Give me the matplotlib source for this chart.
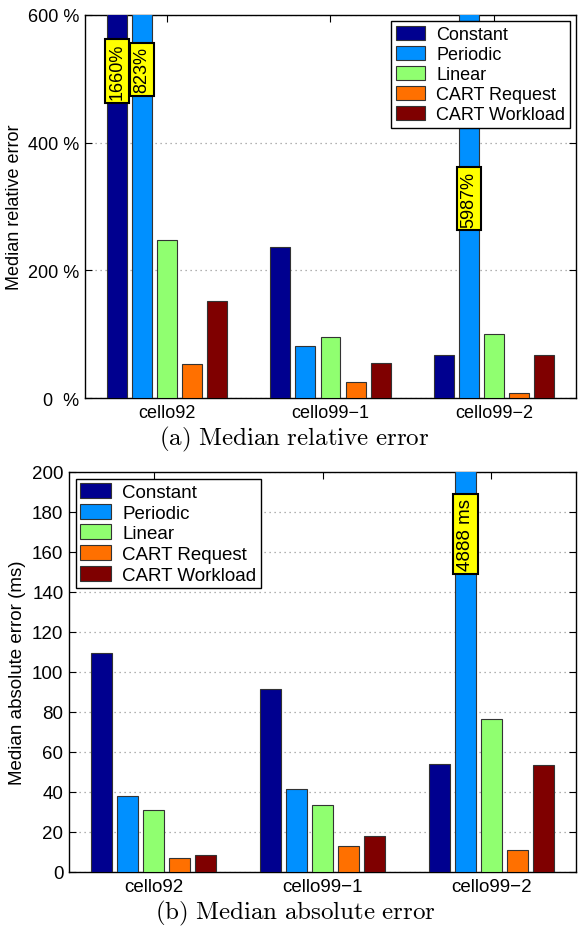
import matplotlib
matplotlib.use('Agg')
import matplotlib.pyplot as plt
import numpy as np

plt.rcParams['font.family'] = ['Liberation Sans', 'DejaVu Sans']
plt.rcParams['mathtext.fontset'] = 'cm'

datasets = ['cello92', 'cello99\u22121', 'cello99\u22122']
methods = ['Constant', 'Periodic', 'Linear', 'CART Request', 'CART Workload']
colors = ['#00008f', '#0090ff', '#90ff70', '#ff7000', '#7f0000']

# (a) median relative error, percent
rel_constant = [1660, 236, 68]
rel_periodic = [823, 82, 5987]
rel_linear = [248, 96, 100]
rel_cart_req = [53, 25, 8]
rel_cart_wl = [152, 55, 68]

# (b) median absolute error, ms
abs_constant = [109.5, 91.5, 54]
abs_periodic = [38, 41.5, 4888]
abs_linear = [31, 33.7, 76.5]
abs_cart_req = [6.8, 13.2, 11]
abs_cart_wl = [8.5, 18.2, 53.7]

rel_series = [rel_constant, rel_periodic, rel_linear, rel_cart_req, rel_cart_wl]
abs_series = [abs_constant, abs_periodic, abs_linear, abs_cart_req, abs_cart_wl]

step = 0.153
width = 0.122
x = np.arange(1, len(datasets) + 1)


def draw(ax, series, ymax, yticks, yticklabels, ylabel, legend_loc, notes, fs):
    for i, vals in enumerate(series):
        ax.bar(x + (i - 2) * step, vals, width, color=colors[i],
               edgecolor='#333333', linewidth=0.8, label=methods[i], zorder=3)
    ax.set_xlim(0.5, 3.5)
    ax.set_ylim(0, ymax)
    ax.set_xticks(x)
    ax.set_xticklabels(datasets, fontsize=fs)
    ax.set_yticks(yticks)
    ax.set_yticklabels(yticklabels, fontsize=fs)
    ax.set_ylabel(ylabel, fontsize=fs)
    ax.yaxis.grid(True, linestyle=(0, (1, 3)), color='#999999', linewidth=0.9, zorder=0)
    ax.tick_params(direction='in', top=True, right=True, length=5, pad=4)
    for s in ax.spines.values():
        s.set_linewidth(1.0)
    leg = ax.legend(loc=legend_loc, fontsize=fs, fancybox=False, edgecolor='black',
                    framealpha=1, labelspacing=0.14, handlelength=1.65,
                    handleheight=0.85, borderpad=0.25, handletextpad=0.6,
                    borderaxespad=0.35)
    leg.get_frame().set_linewidth(1.0)
    for (si, gi, ypos, txt) in notes:
        ax.text(x[gi] + (si - 2) * step, ypos, txt, rotation=90, fontsize=fs,
                ha='center', va='center', zorder=5,
                bbox=dict(boxstyle='square,pad=0.2', facecolor='yellow',
                          edgecolor='black', linewidth=1.5))


fig = plt.figure(figsize=(5.79, 9.29), dpi=100)
ax1 = fig.add_axes([0.1468, 0.5705, 0.848, 0.4123])
ax2 = fig.add_axes([0.1192, 0.0603, 0.8756, 0.4306])

draw(ax1, rel_series, 600, [0, 200, 400, 600], ['0  %', '200 %', '400 %', '600 %'],
     'Median relative error', 'upper right',
     [(0, 0, 512, '1660%'), (1, 0, 515, '823%'), (1, 2, 312, '5987%')], 13)
draw(ax2, abs_series, 200, np.arange(0, 201, 20), [str(v) for v in range(0, 201, 20)],
     'Median absolute error (ms)', 'upper left',
     [(1, 2, 169, '4888 ms')], 13.5)

fig.text(0.508, 1 - 445 / 929, r'$\mathrm{(a)\ Median\ relative\ error}$',
         ha='center', va='baseline', fontsize=18)
fig.text(0.51, 1 - 919 / 929, r'$\mathrm{(b)\ Median\ absolute\ error}$',
         ha='center', va='baseline', fontsize=18)

fig.savefig('out.png', dpi=100)
